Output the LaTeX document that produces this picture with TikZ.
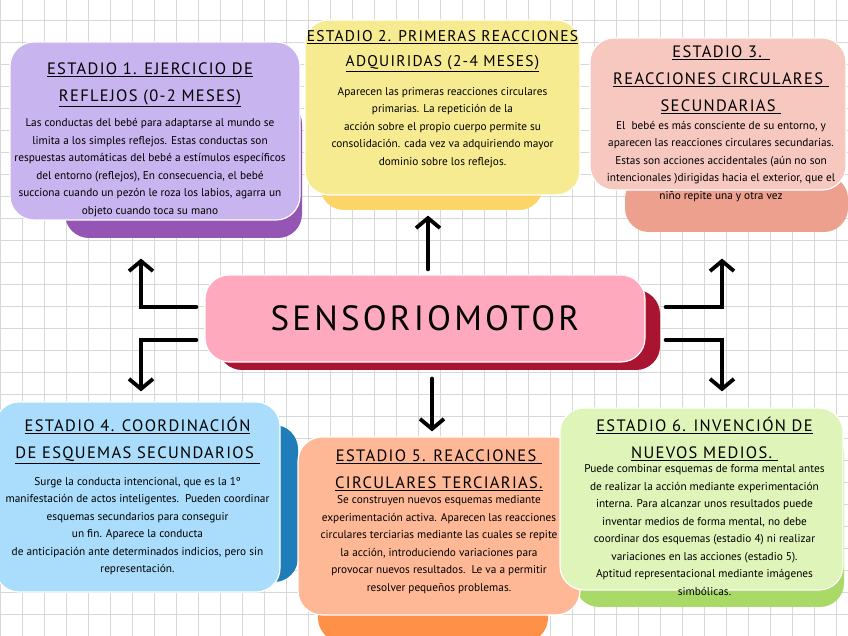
\documentclass[tikz,border=0pt]{standalone}
\usepackage{fontspec}
\setmainfont{PT Sans}
\newfontfamily\titulofont[LetterSpace=8]{PT Sans}
\newfontfamily\centrofont[LetterSpace=9]{PT Sans}
\usepackage{tikz}
\usetikzlibrary{positioning, arrows.meta, calc}
\definecolor{rejillagris}{RGB}{215,215,215}
\definecolor{moradoclaro}{RGB}{200,180,238}
\definecolor{moradooscuro}{RGB}{148,85,180}
\definecolor{amarilloclaro}{RGB}{247,235,146}
\definecolor{amarillooscuro}{RGB}{253,212,104}
\definecolor{rosaclaro}{RGB}{246,200,192}
\definecolor{rosaoscuro}{RGB}{238,160,142}
\definecolor{centroclaro}{RGB}{255,169,190}
\definecolor{centrooscuro}{RGB}{169,21,48}
\definecolor{azulclaro}{RGB}{169,221,251}
\definecolor{azuloscuro}{RGB}{31,125,185}
\definecolor{naranjaclaro}{RGB}{255,184,150}
\definecolor{naranjaoscuro}{RGB}{255,144,72}
\definecolor{verdeclaro}{RGB}{223,244,184}
\definecolor{verdeoscuro}{RGB}{169,217,102}

\tikzset{
  caja/.style={rounded corners=24pt, draw=white, line width=1.2pt, inner sep=0pt},
  sombra/.style={rounded corners=24pt},
  titulo/.style={anchor=north, align=center, inner sep=0pt,
    font=\titulofont\fontsize{16.5}{27}\selectfont},
  cuerpo/.style={below=#1, align=center, inner sep=0pt,
    font=\fontsize{11.3}{17.5}\selectfont},
  flecha/.style={line width=3.8pt, line cap=round,
    -{Straight Barb[length=10pt,width=24pt]}},
}

\begin{document}
\begin{tikzpicture}[x=1pt, y=1pt]
  \useasboundingbox (0,0) rectangle (848,636);
  \clip (0,0) rectangle (848,636);
  \fill[white] (0,0) rectangle (848,636);
  \draw[rejillagris, line width=0.6pt, step=22pt] (0,0) grid (848,636);

  % sombras
  \fill[sombra, moradooscuro] (65,398) rectangle (302,536);
  \fill[sombra, amarillooscuro] (320,426) rectangle (543,466);
  \fill[sombra, rosaoscuro] (625,404) rectangle (848,461);
  \fill[sombra, centrooscuro] (218,266) rectangle (660,346);
  \fill[sombra, azuloscuro] (40,54) rectangle (298,211);
  \fill[sombra, naranjaoscuro] (318,-6) rectangle (548,46);
  \fill[sombra, verdeoscuro] (575,29) rectangle (844,206);

  % cajas
  \node[caja, fill=moradoclaro, minimum width=290pt, minimum height=178pt] (estadio1) at (155,505) {};
  \node[caja, fill=amarilloclaro, minimum width=275pt, minimum height=175pt] (estadio2) at (442.5,528.5) {};
  \node[caja, fill=rosaclaro, minimum width=256pt, minimum height=152pt] (estadio3) at (718,522) {};
  \node[caja, fill=centroclaro, minimum width=440pt, minimum height=87pt,
        font=\centrofont\fontsize{35}{35}\selectfont] (sensorio) at (425,317.5) {SENSORIOMOTOR};
  \node[caja, fill=azulclaro, minimum width=285pt, minimum height=190pt] (estadio4) at (137.5,139) {};
  \node[caja, fill=naranjaclaro, minimum width=282pt, minimum height=178pt] (estadio5) at (439,110) {};
  \node[caja, fill=verdeclaro, minimum width=283pt, minimum height=182pt] (estadio6) at (701.5,137) {};

  % textos
  \node[titulo] (titulo1) at ([xshift=-5pt, yshift=-21pt]estadio1.north)
    {\underline{ESTADIO 1. EJERCICIO DE}\\ \underline{REFLEJOS (0-2 MESES)}};
  \node[cuerpo=11pt of titulo1] (texto1) {Las conductas del bebé para adaptarse al mundo se\\
    limita a los simples reflejos. Estas conductas son\\
    respuestas automáticas del bebé a estímulos específicos\\
    del entorno (reflejos), En consecuencia, el bebé\\
    succiona cuando un pezón le roza los labios, agarra un\\
    objeto cuando toca su mano};

  \node[titulo, font=\titulofont\fontsize{15.5}{25}\selectfont] (titulo2) at ([yshift=-11pt]estadio2.north)
    {\underline{ESTADIO 2. PRIMERAS REACCIONES}\\ \underline{ADQUIRIDAS (2-4 MESES)}};
  \node[cuerpo=15pt of titulo2] (texto2) {Aparecen las primeras reacciones circulares\\
    primarias. La repetición de la\\
    acción sobre el propio cuerpo permite su\\
    consolidación. cada vez va adquiriendo mayor\\
    dominio sobre los reflejos.};

  \node[titulo] (titulo3) at ([xshift=3pt, yshift=-8pt]estadio3.north)
    {\underline{ESTADIO 3. }\\ \underline{REACCIONES CIRCULARES }\\ \underline{SECUNDARIAS }};
  \node[cuerpo=7pt of titulo3] (texto3) {El\ \ bebé es más consciente de su entorno, y\\
    aparecen las reacciones circulares secundarias.\\
    Estas son acciones accidentales (aún no son\\
    intencionales )dirigidas hacia el exterior, que el\\
    niño repite una y otra vez};

  \node[titulo] (titulo4) at ([yshift=-16pt]estadio4.north)
    {\underline{ESTADIO 4. COORDINACIÓN}\\ \underline{DE ESQUEMAS SECUNDARIOS }};
  \node[cuerpo=13pt of titulo4] (texto4) {Surge la conducta intencional, que es la 1º\\
    manifestación de actos inteligentes.\ \ Pueden coordinar\\
    esquemas secundarios para conseguir\\
    un fin. Aparece la conducta\\
    de anticipación ante determinados indicios, pero sin\\
    representación.};

  \node[titulo] (titulo5) at ([yshift=-13pt]estadio5.north)
    {\underline{ESTADIO 5. REACCIONES }\\ \underline{CIRCULARES TERCIARIAS.}};
  \node[cuerpo=5pt of titulo5] (texto5) {Se construyen nuevos esquemas mediante\\
    experimentación activa. Aparecen las reacciones\\
    circulares terciarias mediante las cuales se repite\\
    la acción, introduciendo variaciones para\\
    provocar nuevos resultados.\ \ Le va a permitir\\
    resolver pequeños problemas.};

  \node[titulo] (titulo6) at ([xshift=3pt, yshift=-10pt]estadio6.north)
    {\underline{ESTADIO 6. INVENCIÓN DE}\\ \underline{NUEVOS MEDIOS. }};
  \node[cuerpo=3pt of titulo6] (texto6) {Puede combinar esquemas de forma mental antes\\
    de realizar la acción mediante experimentación\\
    interna. Para alcanzar unos resultados puede\\
    inventar medios de forma mental, no debe\\
    coordinar dos esquemas (estadio 4) ni realizar\\
    variaciones en las acciones (estadio 5).\\
    Aptitud representacional mediante imágenes\\
    simbólicas.};

  % flechas
  \draw[flecha, shorten <=5pt, shorten >=20pt] ([xshift=3pt]sensorio.north) -- ([xshift=3pt]sensorio.north |- estadio2.south);
  \draw[flecha, shorten <=16pt, shorten >=5pt] ([xshift=7pt]sensorio.south) -- ([xshift=7pt]sensorio.south |- estadio5.north);
  \draw[flecha, shorten <=8pt, shorten >=38pt] ([yshift=11.5pt]sensorio.west) -| ([xshift=-14pt]estadio1.south);
  \draw[flecha, shorten <=8pt, shorten >=10pt] ([yshift=-21.5pt]sensorio.west) -| ([xshift=3.5pt]estadio4.north);
  \draw[flecha, shorten <=20pt, shorten >=68pt] ([yshift=11.5pt]sensorio.east) -| ([xshift=4pt]estadio3.south);
  \draw[flecha, shorten <=20pt, shorten >=16pt] ([yshift=-21.5pt]sensorio.east) -| ([xshift=20.5pt]estadio6.north);
\end{tikzpicture}
\end{document}
